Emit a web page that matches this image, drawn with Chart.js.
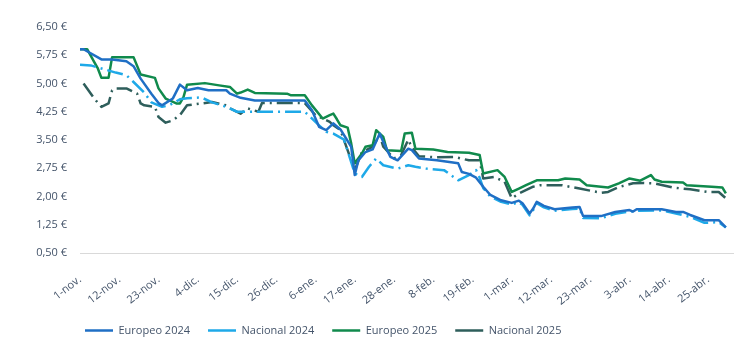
<!DOCTYPE html>
<html>
<head>
<meta charset="utf-8">
<script src="https://cdn.jsdelivr.net/npm/chart.js@4/dist/chart.umd.min.js"></script>
<style>
  html, body { margin: 0; padding: 0; background: #ffffff; }
  #wrap { width: 747px; height: 361px; }
</style>
</head>
<body>
<div id="wrap"><canvas id="c" width="747" height="361"></canvas></div>
<script>
// Tick labels (x axis, every 11 days from 1-nov)
const tickLabels = ['1-nov.','12-nov.','23-nov.','4-dic.','15-dic.','26-dic.','6-ene.','17-ene.','28-ene.','8-feb.','19-feb.','1-mar.','12-mar.','23-mar.','3-abr.','14-abr.','25-abr.'];
const tickDays = [0,11,22,33,44,55,66,77,88,99,110,121,132,143,154,165,176];

const seriesNames = ['Europeo 2024','Nacional 2024','Europeo 2025','Nacional 2025'];

// Europeo 2024
const e24Days = [0,1,6,9,13,15,17,20,22,23,26,28,30,33,36,41,42,45,49,63,65,67,69,71,73,76,77,78,80,82,84,85,87,89,92,93,95,100,103,106,107,109,111,113,115,118,121,123,124,126,127,128,130,133,138,140,141,146,150,154,155,156,163,167,169,171,175,179,181];
const e24Vals = [5.91,5.91,5.64,5.64,5.59,5.46,5.13,4.73,4.48,4.42,4.60,4.97,4.82,4.88,4.82,4.82,4.73,4.62,4.55,4.55,4.29,3.85,3.76,3.94,3.78,3.32,2.57,2.96,3.18,3.25,3.67,3.45,3.05,2.96,3.27,3.23,3.01,2.96,2.92,2.88,2.65,2.60,2.50,2.26,2.04,1.90,1.83,1.89,1.82,1.55,1.68,1.86,1.75,1.66,1.71,1.72,1.48,1.48,1.59,1.64,1.60,1.66,1.66,1.59,1.59,1.51,1.37,1.37,1.18];

// Nacional 2024
const n24Days = [0,3,6,10,13,15,18,20,23,25,28,30,34,37,41,44,50,63,64,67,69,71,74,77,79,81,83,85,89,92,94,97,102,106,109,111,112,113,115,118,121,123,124,126,127,128,130,133,138,140,141,146,150,154,156,163,167,171,175,179,181];
const n24Vals = [5.50,5.48,5.40,5.29,5.22,5.04,4.76,4.50,4.38,4.42,4.58,4.61,4.63,4.50,4.38,4.25,4.25,4.25,4.16,3.89,3.72,3.67,3.51,2.61,2.52,2.79,3.01,2.83,2.74,2.83,2.79,2.74,2.70,2.43,2.57,2.70,2.50,2.22,2.00,1.86,1.79,1.85,1.78,1.50,1.64,1.82,1.71,1.62,1.67,1.68,1.43,1.42,1.54,1.60,1.62,1.63,1.55,1.46,1.30,1.32,1.18];

// Europeo 2025
const e25Days = [0,2,4,5,6,8,9,15,17,21,22,24,27,28,29,30,35,39,42,44,45,47,49,58,59,63,65,68,70,71,72,73,75,76,77,79,80,82,83,85,86,90,91,93,94,99,103,109,112,113,117,119,121,123,125,128,134,136,140,142,146,148,151,154,157,160,161,163,169,170,177,180,181];
const e25Vals = [5.91,5.91,5.57,5.40,5.15,5.15,5.70,5.70,5.24,5.15,4.87,4.60,4.47,4.47,4.64,4.97,5.01,4.95,4.91,4.73,4.76,4.84,4.75,4.73,4.69,4.69,4.42,4.07,4.16,4.20,4.05,3.89,3.83,3.41,2.88,3.14,3.32,3.36,3.76,3.58,3.23,3.21,3.67,3.69,3.27,3.25,3.18,3.16,3.10,2.61,2.70,2.52,2.12,2.21,2.30,2.43,2.43,2.48,2.45,2.30,2.26,2.24,2.35,2.48,2.42,2.57,2.45,2.39,2.37,2.30,2.26,2.24,2.08];

// Nacional 2025
const n25Days = [1,4,6,8,9,10,13,16,17,18,21,22,24,26,28,30,34,37,41,42,45,47,50,51,63,66,68,70,71,73,77,79,82,84,85,88,90,92,93,95,100,105,109,112,113,116,119,121,123,127,129,135,140,146,148,151,155,158,161,166,171,176,179,181];
const n25Vals = [5.00,4.60,4.38,4.47,4.82,4.87,4.87,4.73,4.47,4.42,4.38,4.11,3.96,4.02,4.16,4.42,4.47,4.51,4.42,4.34,4.20,4.34,4.25,4.48,4.48,4.16,4.07,3.98,3.89,3.76,2.70,3.18,3.32,3.63,3.32,3.01,3.10,3.51,3.30,3.07,3.04,3.05,2.96,2.96,2.48,2.52,2.39,1.95,2.08,2.26,2.30,2.30,2.21,2.10,2.12,2.25,2.35,2.36,2.35,2.24,2.19,2.12,2.12,1.95];

const yTicks = [0.5,1.25,2.0,2.75,3.5,4.25,5.0,5.75,6.5];

function pts(days, vals) { return days.map((d, i) => ({ x: d, y: vals[i] })); }

const textColor = '#44546a';
const font = { family: "'Open Sans', sans-serif", size: 11 };
const dashDot = [16, 5, 2, 5];

function ds(label, days, vals, color, dash) {
  return {
    label: label,
    data: pts(days, vals),
    borderColor: color,
    backgroundColor: color,
    borderWidth: 2.5,
    borderDash: dash,
    pointRadius: 0,
    pointHoverRadius: 0,
    pointStyle: 'line',
    tension: 0,
    fill: false,
    borderJoinStyle: 'round'
  };
}

// Move the legend so its first item starts under the plot area and sits where the reference has it
const legendShift = {
  id: 'legendShift',
  beforeDraw(chart) {
    const lg = chart.legend;
    if (lg) {
      const w = lg.right - lg.left;
      lg.left = 67; lg.right = 67 + w;
      lg.top -= 15; lg.bottom -= 15;
    }
  }
};

new Chart(document.getElementById('c'), {
  type: 'line',
  data: {
    datasets: [
      ds(seriesNames[0], e24Days, e24Vals, '#1f6fc5', []),
      ds(seriesNames[1], n24Days, n24Vals, '#1ea9e8', dashDot),
      ds(seriesNames[2], e25Days, e25Vals, '#108a4c', []),
      ds(seriesNames[3], n25Days, n25Vals, '#2e5e5b', dashDot)
    ]
  },
  plugins: [legendShift],
  options: {
    responsive: false,
    animation: false,
    events: [],
    layout: { padding: { left: 30, right: 14, top: 27, bottom: 0 } },
    plugins: {
      tooltip: { enabled: false },
      legend: {
        position: 'bottom',
        align: 'start',
        labels: {
          usePointStyle: true,
          pointStyleWidth: 28,
          boxWidth: 28,
          boxHeight: 3,
          padding: 18,
          color: textColor,
          font: font
        }
      }
    },
    scales: {
      x: {
        type: 'linear',
        min: 0,
        max: 183,
        afterBuildTicks: (axis) => { axis.ticks = tickDays.map(v => ({ value: v })); },
        afterFit: (axis) => { axis.height = 69; },
        ticks: {
          autoSkip: false,
          minRotation: 38,
          maxRotation: 38,
          color: textColor,
          font: font,
          padding: 20,
          callback: (v) => { const i = tickDays.indexOf(v); return i >= 0 ? tickLabels[i] : ''; }
        },
        grid: { display: false, drawTicks: false },
        border: { display: true, color: '#d9d9d9', width: 1 }
      },
      y: {
        type: 'linear',
        min: 0.5,
        max: 6.5,
        afterBuildTicks: (axis) => { axis.ticks = yTicks.map(v => ({ value: v })); },
        afterFit: (axis) => { axis.width = 50; },
        ticks: {
          autoSkip: false,
          color: textColor,
          font: font,
          padding: 13,
          callback: (v) => v.toFixed(2).replace('.', ',') + ' €'
        },
        grid: { display: false, drawTicks: false },
        border: { display: false }
      }
    }
  }
});
</script>
</body>
</html>
